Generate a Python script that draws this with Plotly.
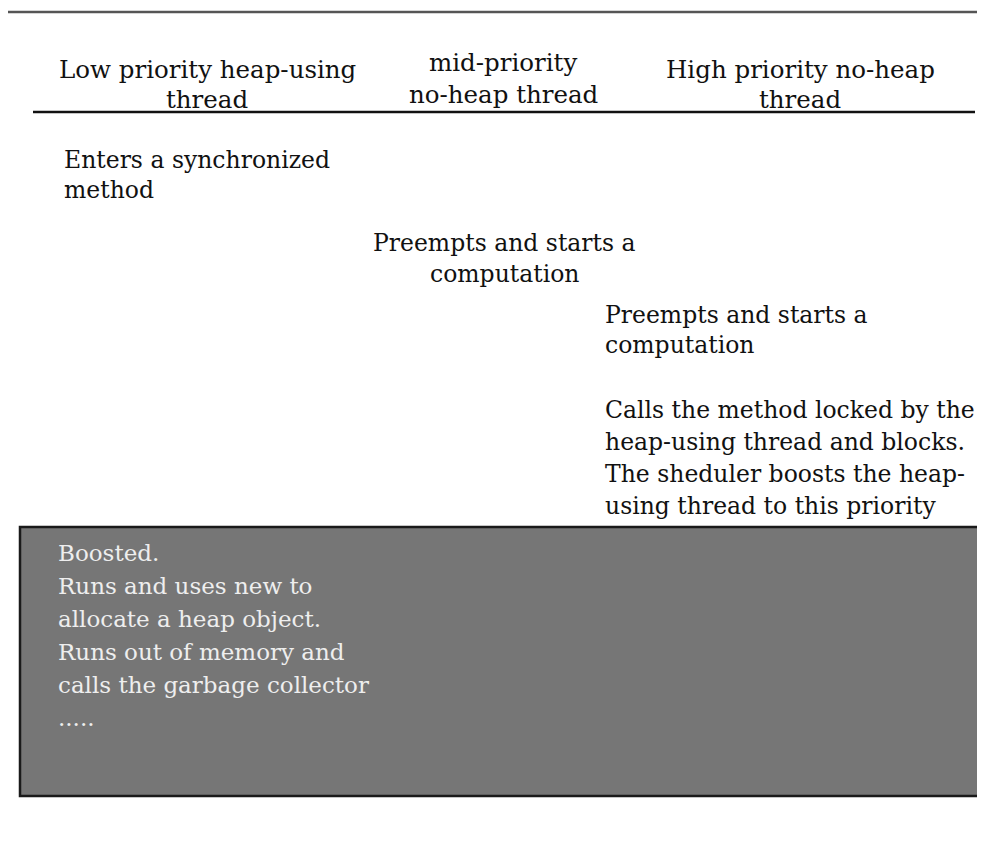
import plotly.graph_objects as go

W, H = 985, 848
OFF = 8  # page body margin in the browser

# Column headers (two lines each) and their centre x
header_lines = [
    ["Low priority heap-using", "thread"],
    ["mid-priority", "no-heap thread"],
    ["High priority no-heap", "thread"],
]
header_x = [207, 503, 800]
header_y = [[69, 99], [62, 94], [69, 99]]

# Event blocks
event_lines = [
    ["Enters a synchronized", "method"],
    ["Preempts and starts a", "computation"],
    ["Preempts and starts a", "computation"],
    ["Calls the method locked by the", "heap-using thread and blocks.",
     "The sheduler boosts the heap-", "using thread to this priority"],
]
event_x = [62, 504, 603, 603]
event_anchor = ["left", "center", "left", "left"]
event_y0 = [160, 243, 315, 410]
event_step = [30, 31, 30, 32]

box_lines = ["Boosted.", "Runs and uses new to", "allocate a heap object.",
             "Runs out of memory and", "calls the garbage collector", "....."]
box_x = 56
box_y0 = 553
box_step = 33

FONT = "DejaVu Serif, serif"

fig = go.Figure()
fig.add_trace(go.Scatter(x=[0, W], y=[0, H], mode="markers",
                         marker=dict(opacity=0), hoverinfo="skip", showlegend=False))

fig.add_shape(type="line", x0=4, x1=W + 20, y0=12, y1=12,
              line=dict(color="#555555", width=2.5))
fig.add_shape(type="line", x0=33, x1=975, y0=112, y1=112,
              line=dict(color="#111111", width=2.5))
fig.add_shape(type="rect", x0=20, x1=W + 20, y0=527, y1=796,
              fillcolor="#767676", line=dict(color="#1a1a1a", width=2.5))

ann = []
for lines, cx, ys in zip(header_lines, header_x, header_y):
    for t, y in zip(lines, ys):
        ann.append(dict(x=cx, y=y, text=t, xanchor="center", yanchor="middle",
                        font=dict(family=FONT, size=24.5, color="#111111")))
for lines, x, anc, y0, st in zip(event_lines, event_x, event_anchor, event_y0, event_step):
    for i, t in enumerate(lines):
        ann.append(dict(x=x, y=y0 + i * st, text=t, xanchor=anc, yanchor="middle",
                        font=dict(family=FONT, size=23.5, color="#111111")))
for i, t in enumerate(box_lines):
    ann.append(dict(x=box_x, y=box_y0 + i * box_step, text=t, xanchor="left",
                    yanchor="middle",
                    font=dict(family=FONT, size=23, color="#eeeeee")))
for a in ann:
    a.update(xref="x", yref="y", showarrow=False)

fig.update_layout(
    width=W, height=H, margin=dict(l=0, r=0, t=0, b=0),
    paper_bgcolor="white", plot_bgcolor="white",
    xaxis=dict(range=[OFF, W + OFF], visible=False, fixedrange=True),
    yaxis=dict(range=[H + OFF, OFF], visible=False, fixedrange=True),
    annotations=ann, showlegend=False,
)
fig.write_html("out.html")
